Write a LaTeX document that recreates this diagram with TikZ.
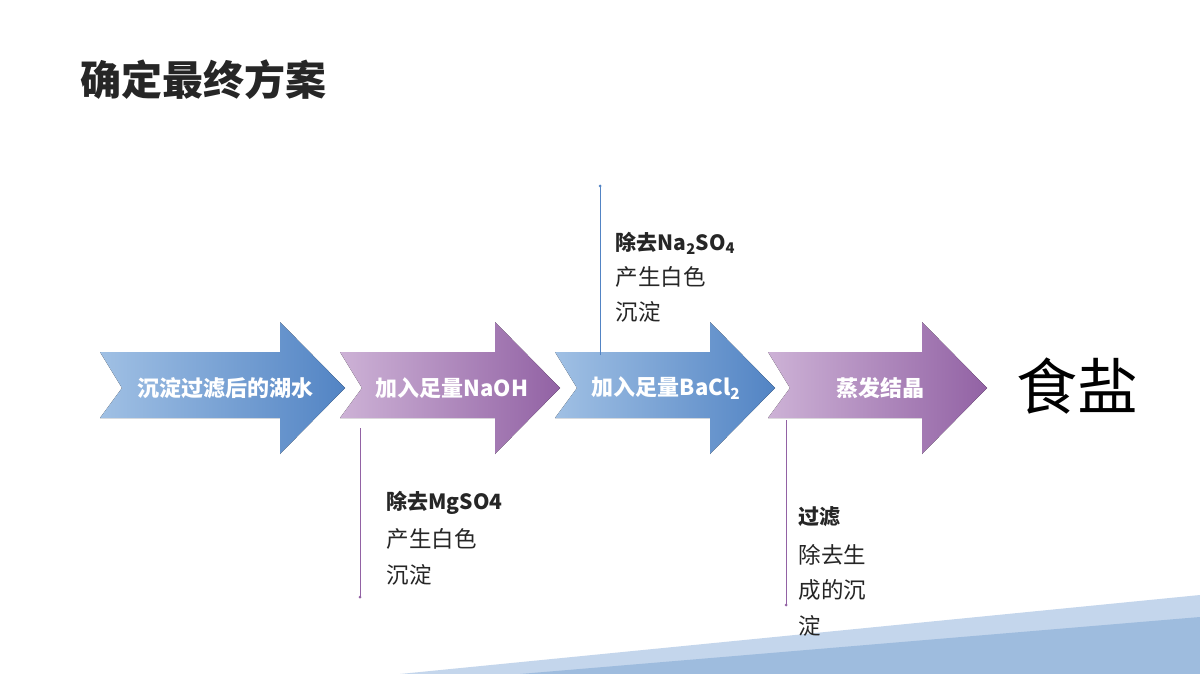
\documentclass[tikz,border=0pt]{standalone}
\usepackage{fontspec}
\setmainfont{Noto Sans CJK SC}
\begin{document}
\begin{tikzpicture}[x=1pt,y=-1pt,
  lbl/.style={anchor=west,font=\fontsize{22.5}{26}\selectfont,text=black!85},
  blbl/.style={anchor=west,font=\bfseries\fontsize{21}{26}\selectfont,text=black!85},
  arrtxt/.style={text=white,font=\bfseries\fontsize{22}{26}\selectfont},
  bluegrad/.style={left color=blue1,right color=blue2,draw=none},
  purgrad/.style={left color=pur1,right color=pur2,draw=none}]
\definecolor{blue1}{RGB}{160,192,228}
\definecolor{blue2}{RGB}{82,132,196}
\definecolor{pur1}{RGB}{205,178,214}
\definecolor{pur2}{RGB}{146,98,164}
\definecolor{tri1}{RGB}{196,214,236}
\definecolor{tri2}{RGB}{158,188,222}
\useasboundingbox (0,0) rectangle (1200,674);
\fill[white] (0,0) rectangle (1200,674);
% bottom triangles
\fill[tri1] (400,674) -- (1200,595) -- (1200,674) -- cycle;
\fill[tri2] (520,674) -- (1200,617) -- (1200,674) -- cycle;
% title
\node[anchor=west,font=\bfseries\fontsize{41}{44}\selectfont,text=black!85] (title) at (77,80) {确定最终方案};
% arrows
\newcommand\myarrow[5]{%
  \fill[#5] (#1,352) -- (#3,352) -- (#3,322) -- (#4,388) -- (#3,454) -- (#3,418) -- (#1,418) -- (#2,388) -- cycle;}
\myarrow{100}{122}{280}{345}{bluegrad}
\myarrow{340}{362}{495}{560}{purgrad}
\myarrow{555}{577}{710}{775}{bluegrad}
\myarrow{768}{790}{922}{987}{purgrad}
\node[arrtxt] (a1) at (225,388) {沉淀过滤后的湖水};
\node[arrtxt] (a2) at (452,388) {加入足量NaOH};
\node[arrtxt] (a3) at (666,388) {加入足量BaCl\textsubscript{2}};
\node[arrtxt] (a4) at (880,388) {蒸发结晶};
\node[font=\fontsize{61}{64}\selectfont,text=black] (salt) at (1077,386) {食盐};
% lines
\coordinate (l1a) at (360,428); \coordinate (l1b) at (360,597);
\draw[pur2,line width=0.8pt] (l1a) -- (l1b); \fill[pur2] (l1b) circle (1.5);
\coordinate (l2a) at (600,355); \coordinate (l2b) at (600,186);
\draw[blue2,line width=0.8pt] (l2a) -- (l2b); \fill[blue2] (l2b) circle (1.5);
\coordinate (l3a) at (786,420); \coordinate (l3b) at (786,605);
\draw[pur2,line width=0.8pt] (l3a) -- (l3b); \fill[pur2] (l3b) circle (1.5);
% labels
\node[blbl] (t1) at (383,503) {除去MgSO4};
\node[lbl] (t1b) at (383,539) {产生白色};
\node[lbl] (t1c) at (383,575) {沉淀};
\node[blbl] (t2) at (612,243) {除去Na\textsubscript{2}SO\textsubscript{4}};
\node[lbl] (t2b) at (612,277) {产生白色};
\node[lbl] (t2c) at (612,312) {沉淀};
\node[blbl] (t3) at (795,517) {过滤};
\node[lbl] (t3b) at (795,555) {除去生};
\node[lbl] (t3c) at (795,590) {成的沉};
\node[lbl] (t3d) at (795,626) {淀};
\end{tikzpicture}
\end{document}
